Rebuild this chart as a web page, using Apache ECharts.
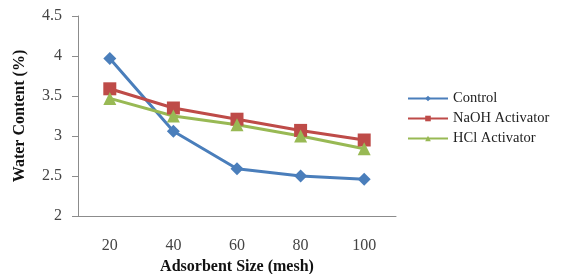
<!DOCTYPE html>
<html>
<head>
<meta charset="utf-8">
<script src="https://cdn.jsdelivr.net/npm/echarts@6/dist/echarts.min.js"></script>
<style>
  html, body { margin: 0; padding: 0; background: #fff; }
  #chart { width: 563px; height: 274px; }
</style>
</head>
<body>
<div id="chart"></div>
<script>
"use strict";

var sizes = ['20', '40', '60', '80', '100'];
var control = [3.97, 3.06, 2.59, 2.50, 2.46];
var naoh = [3.59, 3.35, 3.21, 3.07, 2.95];
var hcl = [3.47, 3.25, 3.14, 3.00, 2.84];

var FONT = '"Liberation Serif", "DejaVu Serif", serif';

function makeSeries(name, data, color, symbol, size) {
	return {
		name: name,
		type: 'line',
		data: data,
		symbol: symbol,
		symbolSize: size,
		lineStyle: { color: color, width: 3 },
		itemStyle: { color: color },
		emphasis: { disabled: true }
	};
}

var chart = echarts.init(document.getElementById('chart'), null, { renderer: 'canvas' });

chart.setOption({
	animation: false,
	textStyle: { fontFamily: FONT },
	grid: {
		top: 16,
		left: 78,
		right: 167,
		bottom: 58,
		containLabel: false,
		outerBoundsMode: 'none'
	},
	legend: {
		orient: 'vertical',
		left: 402,
		top: 86,
		itemGap: 5,
		itemWidth: 40,
		itemHeight: 7,
		textStyle: { fontFamily: FONT, fontSize: 14.5, color: '#222' },
		data: ['Control', 'NaOH Activator', 'HCl Activator']
	},
	xAxis: [{
		type: 'category',
		data: sizes,
		boundaryGap: true,
		name: 'Adsorbent Size (mesh)',
		nameLocation: 'middle',
		nameGap: 42,
		nameTextStyle: { fontFamily: FONT, fontWeight: 'bold', fontSize: 16, color: '#111' },
		axisLine: { lineStyle: { color: '#8c8c8c', width: 1 } },
		axisTick: { show: false },
		axisLabel: { fontFamily: FONT, fontSize: 16, color: '#444', margin: 22 }
	}],
	yAxis: [{
		type: 'value',
		min: 2,
		max: 4.5,
		interval: 0.5,
		name: 'Water Content (%)',
		nameLocation: 'middle',
		nameGap: 50,
		nameTextStyle: { fontFamily: FONT, fontWeight: 'bold', fontSize: 16, color: '#111' },
		axisLine: { show: true, lineStyle: { color: '#8c8c8c', width: 1 } },
		axisTick: { show: true, length: 6, lineStyle: { color: '#8c8c8c' } },
		splitLine: { show: false },
		axisLabel: { fontFamily: FONT, fontSize: 16, color: '#444', margin: 16 }
	}],
	series: [
		makeSeries('Control', control, '#4a7ebb', 'diamond', 13),
		makeSeries('NaOH Activator', naoh, '#be4b48', 'rect', 13),
		makeSeries('HCl Activator', hcl, '#98b954', 'triangle', 13)
	]
});
</script>
</body>
</html>
